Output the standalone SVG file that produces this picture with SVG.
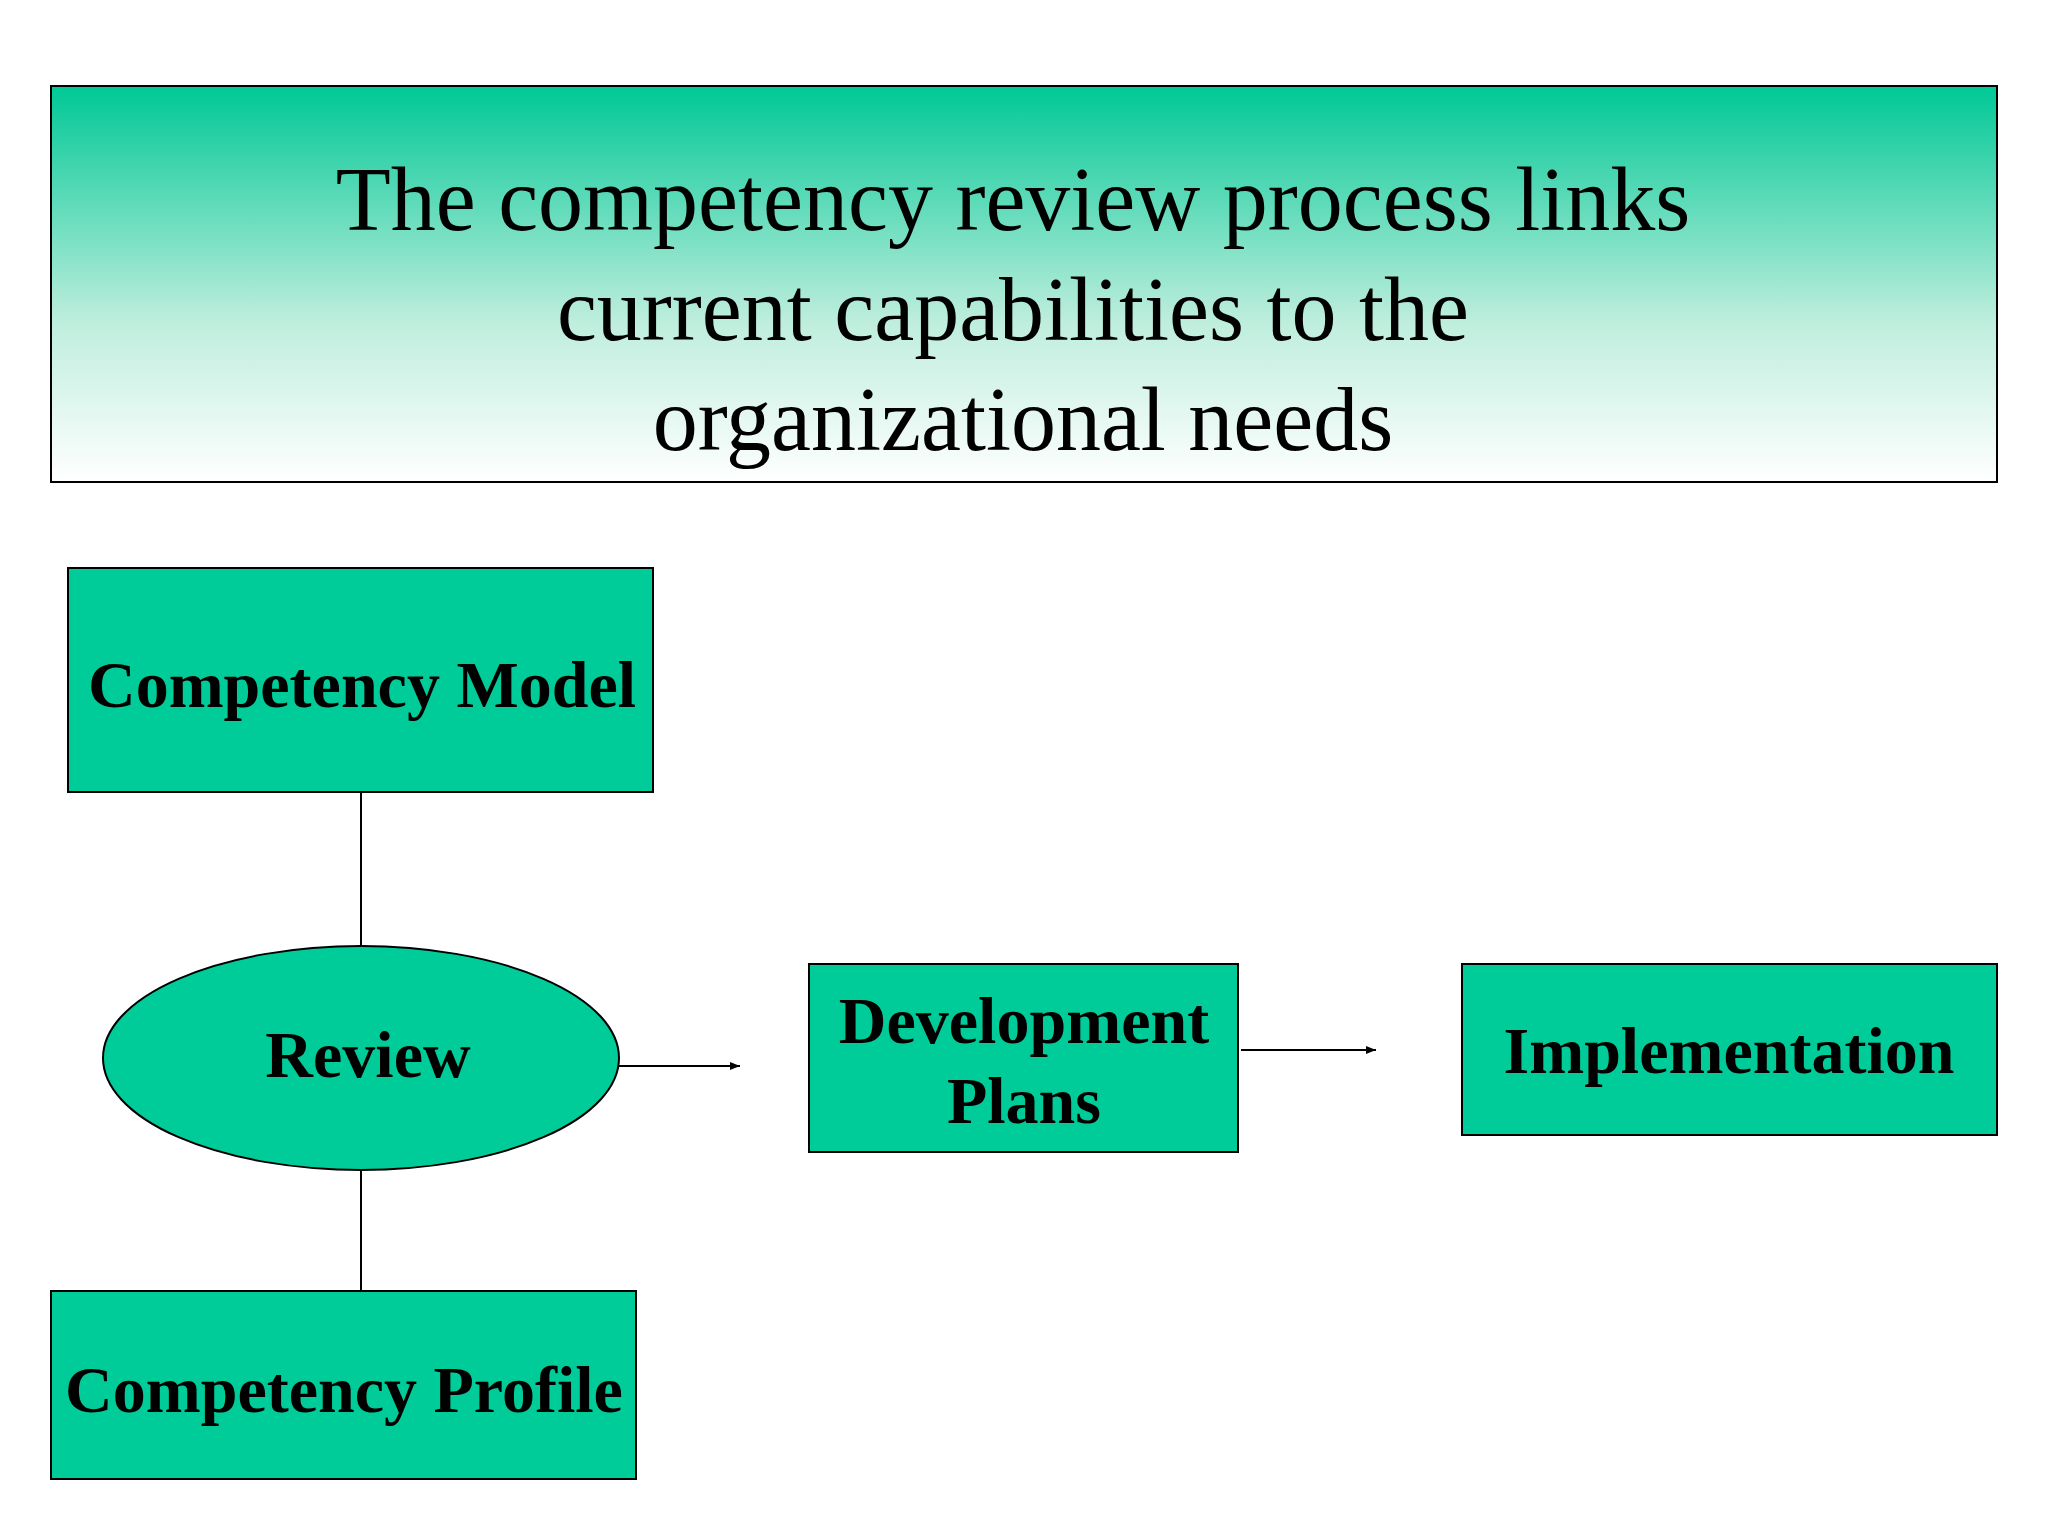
<svg xmlns="http://www.w3.org/2000/svg" width="2048" height="1536" viewBox="0 0 2048 1536">
<style>
.n{fill:#00cc99;stroke:#000;stroke-width:2}
.t{font-family:"Liberation Serif",serif;font-weight:bold;font-size:66px;text-anchor:middle;fill:#000}
.h{font-family:"Liberation Serif",serif;font-size:90px;text-anchor:middle;fill:#000}
.c{stroke:#000;stroke-width:2;fill:none}
</style>
<defs>
<linearGradient id="g" x1="0" y1="0" x2="0" y2="1">
<stop offset="0" stop-color="#00c896"/><stop offset="0.6" stop-color="#bfeedd"/><stop offset="1" stop-color="#ffffff"/>
</linearGradient>
<marker id="a" markerWidth="10" markerHeight="8" refX="10" refY="4" orient="auto" markerUnits="userSpaceOnUse"><path d="M0,0L10,4L0,8z" fill="#000"/></marker>
</defs>
<rect width="2048" height="1536" fill="#fff"/>
<g id="header">
<rect x="51" y="86" width="1946" height="396" fill="url(#g)" stroke="#000" stroke-width="2"/>
<text class="h" x="1013" y="230">The competency review process links</text>
<text class="h" x="1013" y="340">current capabilities to the</text>
<text class="h" x="1023" y="450">organizational needs</text>
</g>
<g id="connectors">
<line class="c" x1="361" y1="792" x2="361" y2="946"/>
<line class="c" x1="361" y1="1170" x2="361" y2="1291"/>
<line class="c" x1="619" y1="1066" x2="740" y2="1066" marker-end="url(#a)"/>
<line class="c" x1="1241" y1="1050" x2="1376" y2="1050" marker-end="url(#a)"/>
</g>
<g id="competency-model"><rect class="n" x="68" y="568" width="585" height="224"/><text class="t" x="362" y="707">Competency Model</text></g>
<g id="review"><ellipse class="n" cx="361" cy="1058" rx="258" ry="112"/><text class="t" x="368" y="1077">Review</text></g>
<g id="competency-profile"><rect class="n" x="51" y="1291" width="585" height="188"/><text class="t" x="344" y="1412">Competency Profile</text></g>
<g id="development-plans"><rect class="n" x="809" y="964" width="429" height="188"/><text class="t" x="1024" y="1043">Development</text><text class="t" x="1024" y="1123">Plans</text></g>
<g id="implementation"><rect class="n" x="1462" y="964" width="535" height="171"/><text class="t" x="1729" y="1073">Implementation</text></g>
</svg>
